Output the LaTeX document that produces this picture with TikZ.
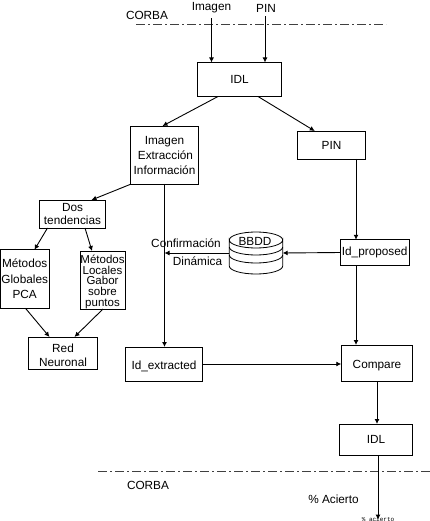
\documentclass[tikz,border=0pt]{standalone}
\usepackage{fontspec}
\setmainfont{Liberation Sans}
\newfontfamily\tinymono{Liberation Mono}
\usetikzlibrary{arrows.meta}
\tikzset{
  txt/.style={inner sep=0pt,outer sep=0pt,align=center,font=\fontsize{11.8}{15}\selectfont},
  boxn/.style={txt,draw=black,line width=0.9pt,minimum width=#1},
  boxn/.default=60pt,
  conn/.style={draw=black,line width=0.9pt,-{Latex[length=5pt,width=5pt]}},
  divider/.style={draw=black!75,line width=1pt,dash pattern=on 9pt off 3pt on 2pt off 3pt},
  tier/.style={draw=black,line width=0.8pt}
}
\begin{document}
\begin{tikzpicture}[x=1pt,y=-1pt]
\useasboundingbox (0,0) rectangle (430,521);
% labels
\node[txt] (corbaTop) at (147,15) {CORBA};
\node[txt] (corbaBot) at (148,485) {CORBA};
\node[txt] (limg) at (211.5,8) {Imagen};
\node[txt] (lpin) at (266,8) {PIN};
\node[txt] (conf) at (186,243.5) {Confirmación};
\node[txt] (din) at (197.5,261.5) {Dinámica};
\node[txt] (acierto) at (333.5,499.5) {\% Acierto};
\node[inner sep=0pt,font=\tinymono\fontsize{6}{7}\selectfont] (tiny) at (378,519) {\% acierto};
% dividers
\coordinate (dtl) at (136,24.5);
\coordinate (dtr) at (386,24.5);
\coordinate (dbl) at (98,471.5);
\coordinate (dbr) at (430,471.5);
\draw[divider] (dtl) -- (dtr);
\draw[divider] (dbl) -- (dbr);
% boxes
\node[boxn=84pt,minimum height=34pt] (idl) at (239.5,79.5) {IDL};
\node[boxn=68pt,minimum height=58pt] (img) at (164.5,155) {Imagen\\\,Extracción\\Información};
\node[boxn=68.5pt,minimum height=28pt] (pin) at (331.5,145) {PIN};
\node[boxn=66pt,minimum height=28pt,font=\fontsize{11.8}{13}\selectfont] (dos) at (72.5,214) {Dos\\tendencias};
\node[boxn=48.5pt,minimum height=58.5pt,font=\fontsize{11.8}{15.5}\selectfont] (glob) at (24.7,279) {Métodos\\Globales\\PCA};
\node[boxn=45pt,minimum height=58pt,font=\fontsize{11.5}{10.7}\selectfont] (loc) at (102.5,280) {Métodos\rule{0pt}{12pt}\\Locales\\Gabor\\sobre\\puntos};
\node[boxn=69pt,minimum height=32.5pt,font=\fontsize{11.8}{14}\selectfont] (red) at (63,353.2) {Red\rule{0pt}{12pt}\\Neuronal};
\node[boxn=76.5pt,minimum height=34pt] (ext) at (164,364) {\raisebox{-1.5pt}[8.5pt][0pt]{Id\_extracted}};
\node[boxn=68.5pt,minimum height=25.5pt] (prop) at (374.7,252.5) {Id\_proposed};
\node[boxn=71.5pt,minimum height=36pt] (cmp) at (377,363) {\raisebox{-1pt}[8.5pt][0pt]{Compare}};
\node[boxn=73.5pt,minimum height=31pt] (idlb) at (376,439.5) {IDL};
% database
\node[txt,minimum width=53.4pt,minimum height=42pt] (db) at (256,253) {};
\draw[tier,fill=white] (db.west |- 0,240) arc[start angle=180,end angle=360,x radius=26.7pt,y radius=8pt]
  -- (db.east |- 0,266) arc[start angle=0,end angle=-180,x radius=26.7pt,y radius=8pt] -- cycle;
\draw[tier] (db.west |- 0,240) arc[start angle=180,end angle=0,x radius=26.7pt,y radius=8pt];
\draw[tier] (db.west |- 0,247) arc[start angle=180,end angle=360,x radius=26.7pt,y radius=8pt];
\draw[tier] (db.west |- 0,255) arc[start angle=180,end angle=360,x radius=26.7pt,y radius=8pt];
\node[txt] (dbl2) at (255,241.5) {BBDD};
% connectors
\draw[conn] (limg.south) ++(0,5) -- (limg.south |- idl.north);
\draw[conn] (lpin.south) ++(-1,4) -- ([xshift=-1pt]lpin.south |- idl.north);
\draw[conn] ([xshift=20.5pt]idl.south west) -- ([xshift=32pt]img.north west);
\draw[conn] ([xshift=60.5pt]idl.south west) -- ([xshift=17.5pt]pin.north west);
\draw[conn] ([yshift=-0.3pt]img.south west) -- ([xshift=52pt]dos.north west);
\draw[conn] (img.south) -- (img.south |- ext.north);
\draw[conn] ([xshift=24.5pt]pin.south) -- ([xshift=24.5pt]pin.south |- prop.north);
\draw[conn] (prop.west) -- (db.east);
\draw[conn] (db.west) -- (db.west -| img.south);
\draw[conn] ([xshift=8pt]dos.south west) -- ([xshift=34pt]glob.north west);
\draw[conn] ([xshift=45.5pt]dos.south west) -- ([xshift=12pt]loc.north west);
\draw[conn] ([xshift=25pt]glob.south west) -- ([xshift=21pt]red.north west);
\draw[conn] ([xshift=23pt]loc.south west) -- ([xshift=46pt]red.north west);
\draw[conn] (ext.east) -- (ext.east -| cmp.west);
\draw[conn] ([xshift=-18.7pt]prop.south) -- ([xshift=-18.7pt]prop.south |- cmp.north) ;
\draw[conn] (cmp.south) -- (cmp.south |- idlb.north);
\draw[conn] ([xshift=2pt]idlb.south) -- ([xshift=2pt,yshift=-3pt]idlb.south |- tiny.north);
\end{tikzpicture}
\end{document}
